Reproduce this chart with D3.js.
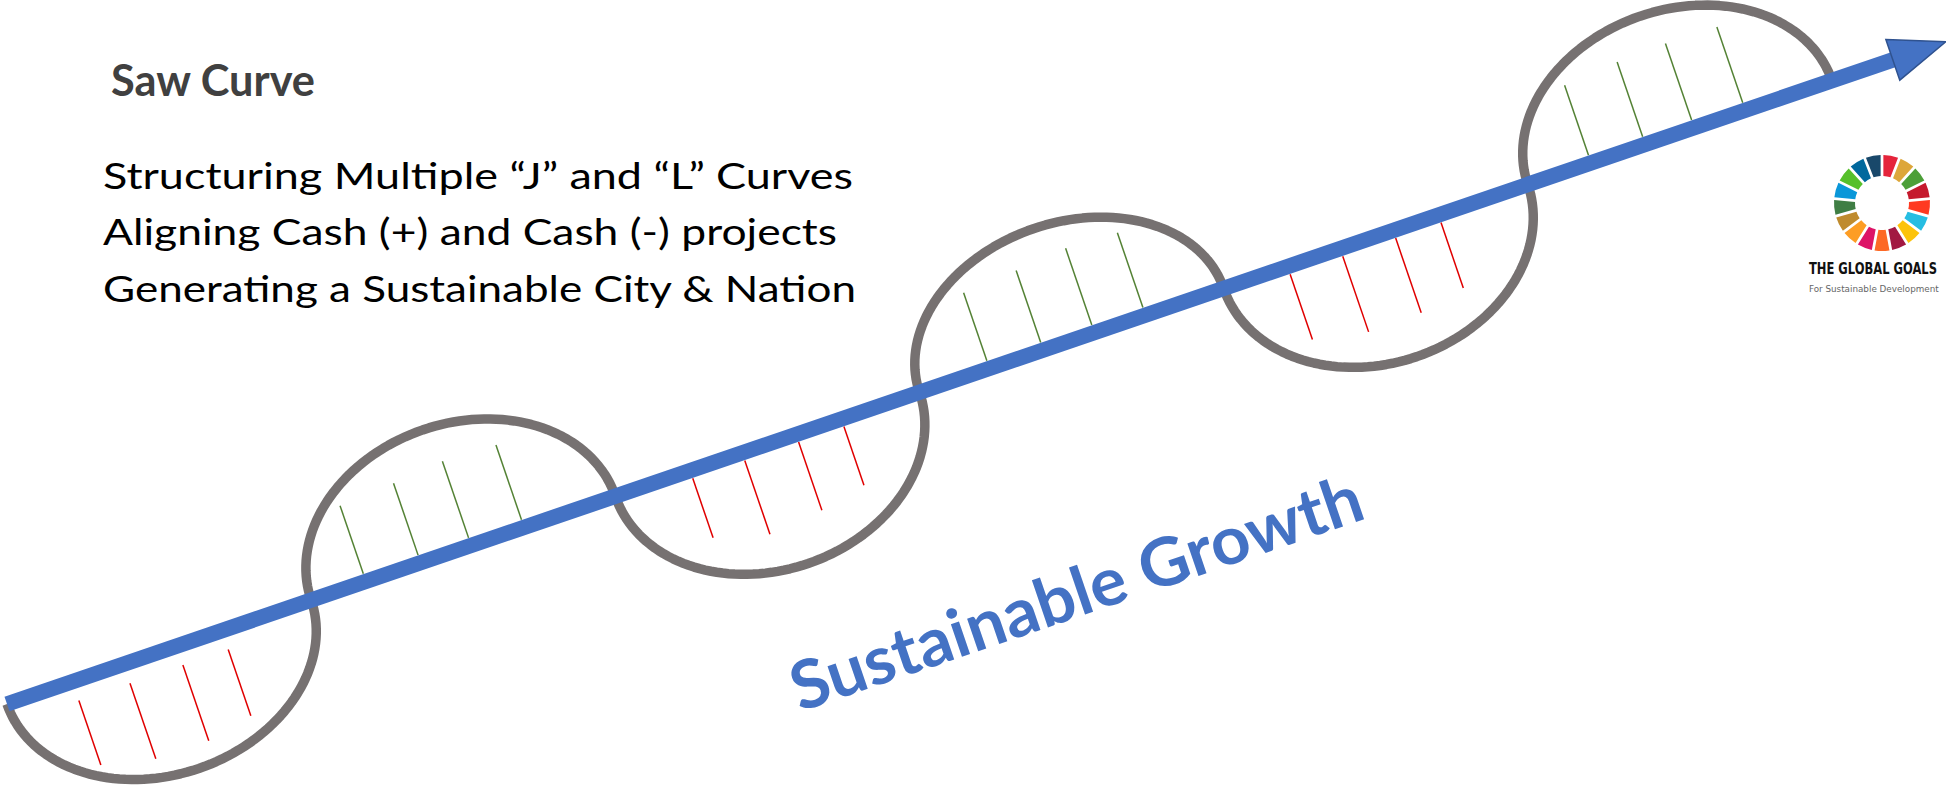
<!DOCTYPE html>
<html>
<head>
<meta charset="utf-8">
<script src="https://cdn.jsdelivr.net/npm/d3@7"></script>
<style>
  body { margin: 0; background: #fff; }
  svg { display: block; }
</style>
</head>
<body>
<script>
var width = 1946, height = 787;

// phases of the saw curve: "+" = cash positive (above the growth line), "-" = cash negative (below)
var phases = ["-", "+", "-", "+", "-", "+"];
// depth of each J / L curve
var phaseDepth = [12.3, 12.5, 12.6, 11.8, 12.7, 12.3];
// where the cash flows fall inside each phase (share of the phase)
var cashTiming = [
  [0.215, 0.383, 0.557, 0.706],
  [0.18, 0.36, 0.526, 0.70],
  [0.246, 0.417, 0.594, 0.743],
  [0.23, 0.407, 0.575, 0.743],
  [0.21, 0.383, 0.557, 0.706],
  [0.208, 0.386, 0.547, 0.715]
];
// size of each cash flow
var cashAmount = [
  [6.8, 8.0, 8.0, 7.0],
  [7.2, 7.6, 8.1, 7.9],
  [6.3, 7.8, 7.2, 6.2],
  [7.2, 7.6, 8.1, 7.9],
  [6.9, 8.0, 7.9, 6.9],
  [7.4, 7.9, 8.1, 8.0]
];
// delay before the cash flows start in each phase
var cashLag = [1.2, 0, 0, 0, 0, 0];
// growth line runs a bit past the last phase
var growthEnd = 6.2;

var sdgColors = ["#E5243B", "#DDA63A", "#4C9F38", "#C5192D", "#FF3A21", "#26BDE2",
  "#FCC30B", "#A21942", "#FD6925", "#DD1367", "#FD9D24", "#BF8B2E", "#3F7E44",
  "#0A97D9", "#56C02B", "#00689D", "#19486A"];

var titleText = "Saw Curve";
var bodyLines = [
  "Structuring Multiple \u201CJ\u201D and \u201CL\u201D Curves",
  "Aligning Cash (+) and Cash (-) projects",
  "Generating a Sustainable City & Nation"
];
var bodyWidths = [750, 734, 753];
var growthLabel = "Sustainable Growth";
var logoLines = ["THE GLOBAL GOALS", "For Sustainable Development"];

var svg = d3.select("body")
  .append("svg")
    .attr("width", width)
    .attr("height", height);

// scales: phase number -> point on the growth line
var x = d3.scaleLinear().domain([0, phases.length]).range([7, 1832]);
var y = d3.scaleLinear().domain([0, phases.length]).range([704, 80.6]);
var amount = d3.scaleLinear().domain([0, 10]).range([0, 100]);

var dx = x(1) - x(0), dy = y(1) - y(0), seg = Math.hypot(dx, dy);
var ux = dx / seg, uy = dy / seg;   // along the line
var nx = uy, ny = -ux;              // normal, pointing above the line
var angle = Math.atan2(dy, dx) * 180 / Math.PI;

// the saw curve: a half ellipse on each phase
var wave = [];
phases.forEach(function(p, i) {
  var s = p === "+" ? 1 : -1, a = seg / 2, b = amount(phaseDepth[i]);
  var cx = x(i + 0.5), cy = y(i + 0.5);
  d3.range(0, 81).forEach(function(k) {
    if (i > 0 && k === 0) return;
    var phi = Math.PI * k / 80;
    var u = -a * Math.cos(phi), v = s * b * Math.sin(phi);
    wave.push([cx + u * ux + v * nx, cy + u * uy + v * ny]);
  });
});

svg.append("path")
  .datum(wave)
  .attr("d", d3.line())
  .attr("fill", "none")
  .attr("stroke", "#767171")
  .attr("stroke-width", 9.5)
  .attr("stroke-linejoin", "round");

// cash flow hatches
var hatches = [];
phases.forEach(function(p, i) {
  cashTiming[i].forEach(function(tm, j) {
    hatches.push({phase: i, sign: p === "+" ? 1 : -1, t: i + tm, amt: cashAmount[i][j], lag: cashLag[i]});
  });
});

svg.append("g")
  .selectAll("line")
  .data(hatches)
  .enter().append("line")
    .attr("x1", function(d) { return x(d.t) + d.sign * (8 + amount(d.lag)) * nx; })
    .attr("y1", function(d) { return y(d.t) + d.sign * (8 + amount(d.lag)) * ny; })
    .attr("x2", function(d) { return x(d.t) + d.sign * (8 + amount(d.lag) + amount(d.amt)) * nx; })
    .attr("y2", function(d) { return y(d.t) + d.sign * (8 + amount(d.lag) + amount(d.amt)) * ny; })
    .attr("stroke", function(d) { return d.sign > 0 ? "#548235" : "#E00000"; })
    .attr("stroke-width", 1.5);

// growth line + arrow head
svg.append("line")
  .attr("x1", x(0)).attr("y1", y(0))
  .attr("x2", x(growthEnd)).attr("y2", y(growthEnd))
  .attr("stroke", "#4472C4")
  .attr("stroke-width", 15.5);

var ex = x(growthEnd), ey = y(growthEnd);
svg.append("path")
  .attr("d", d3.line()([
    [ex + 21.5 * nx, ey + 21.5 * ny],
    [ex + 56 * ux, ey + 56 * uy],
    [ex - 21.5 * nx, ey - 21.5 * ny]
  ]) + "Z")
  .attr("fill", "#4472C4")
  .attr("stroke", "#2F528F")
  .attr("stroke-width", 1.5)
  .attr("stroke-linejoin", "miter");

svg.append("text")
  .attr("transform", "translate(800,712) rotate(" + angle + ")")
  .attr("textLength", 600)
  .attr("lengthAdjust", "spacingAndGlyphs")
  .style("font-family", "Lato, sans-serif")
  .style("font-weight", "bold")
  .style("font-size", "67px")
  .attr("fill", "#4472C4")
  .text(growthLabel);

// texts top left
svg.append("text")
  .attr("x", 111).attr("y", 96)
  .attr("textLength", 204)
  .attr("lengthAdjust", "spacingAndGlyphs")
  .style("font-family", "Lato, sans-serif")
  .style("font-weight", "bold")
  .style("font-size", "43px")
  .attr("fill", "#404040")
  .text(titleText);

svg.append("g")
  .selectAll("text")
  .data(bodyLines)
  .enter().append("text")
    .attr("x", 103)
    .attr("y", function(d, i) { return 189 + i * 56.3; })
    .attr("textLength", function(d, i) { return bodyWidths[i]; })
    .attr("lengthAdjust", "spacingAndGlyphs")
    .style("font-family", "Lato, sans-serif")
    .style("font-size", "36px")
    .attr("fill", "#000")
    .text(function(d) { return d; });

// global goals logo
var logo = svg.append("g").attr("transform", "translate(1882,203)");
var pie = d3.pie().value(1).sort(null);
var arc = d3.arc().innerRadius(27).outerRadius(48).padAngle(0.05);
logo.selectAll("path")
  .data(pie(sdgColors))
  .enter().append("path")
    .attr("d", arc)
    .attr("fill", function(d) { return d.data; });

// squeeze the logo texts horizontally so they fit the space
function logoText(txt, ty, size, weight, color, target) {
  var g = svg.append("g");
  var t = g.append("text")
    .style("font-family", "'DejaVu Sans Condensed', 'DejaVu Sans', sans-serif")
    .style("font-weight", weight)
    .style("font-size", size + "px")
    .attr("fill", color)
    .text(txt);
  var w = t.node().getComputedTextLength();
  g.attr("transform", "translate(1809," + ty + ") scale(" + (target / w) + ",1)");
}
logoText(logoLines[0], 274, 15, "bold", "#111", 128);
logoText(logoLines[1], 292, 9, "normal", "#666", 130);
</script>
</body>
</html>
